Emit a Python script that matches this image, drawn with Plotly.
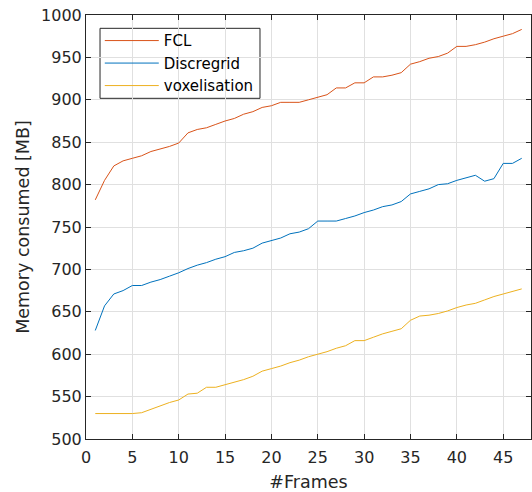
import plotly.graph_objects as go

frames = list(range(1, 48))
fcl = [782, 805, 822, 828, 831, 834, 839, 842, 845, 849,
       861, 865, 867, 871, 875, 878, 883, 886, 891, 893,
       897, 897, 897, 900, 903, 906, 914, 914, 920, 920,
       927, 927, 929, 932, 942, 945, 949, 951, 955, 963,
       963, 965, 968, 972, 975, 978, 983]
discregrid = [628, 657, 671, 675, 681, 681, 685, 688, 692, 696,
              701, 705, 708, 712, 715, 720, 722, 725, 731, 734,
              737, 742, 744, 748, 757, 757, 757, 760, 763, 767,
              770, 774, 776, 780, 789, 792, 795, 800, 801, 805,
              808, 811, 804, 807, 825, 825, 831]
voxel = [530, 530, 530, 530, 530, 531, 535, 539, 543, 546,
         553, 554, 561, 561, 564, 567, 570, 574, 580, 583,
         586, 590, 593, 597, 600, 603, 607, 610, 616, 616,
         620, 624, 627, 630, 640, 645, 646, 648, 651, 655,
         658, 660, 664, 668, 671, 674, 677]

series = [("FCL", fcl, "#D95319"), ("Discregrid", discregrid, "#0072BD"),
          ("voxelisation", voxel, "#EDB120")]

fig = go.Figure()
for name, vals, col in series:
    fig.add_trace(go.Scatter(x=frames, y=vals, mode="lines", name=name,
                             line=dict(color=col, width=1)))

font = "DejaVu Sans, Verdana, sans-serif"
axis_common = dict(showgrid=True, gridcolor="#e0e0e0", gridwidth=1,
                   showline=True, linecolor="#262626", linewidth=1, mirror="ticks",
                   ticks="inside", ticklen=5, tickcolor="#262626", zeroline=False,
                   automargin=False,
                   tickfont=dict(size=16, color="#262626", family=font))

# legend frame drawn as a white box between the grid and the traces
fig.add_shape(type="rect", xref="paper", yref="paper",
              x0=0.0315, x1=0.391, y0=0.8035, y1=0.9686,
              fillcolor="white", line=dict(color="#262626", width=1),
              layer="between")

fig.update_layout(
    width=532, height=492,
    margin=dict(l=86, r=1, t=15, b=53),
    paper_bgcolor="white", plot_bgcolor="white",
    font=dict(family=font, color="#262626"),
    xaxis=dict(range=[0, 48], tickvals=[0, 5, 10, 15, 20, 25, 30, 35, 40, 45],
               ticklabelstandoff=4,
               title=dict(text="#Frames", font=dict(size=17.5, color="#262626"), standoff=14),
               **axis_common),
    yaxis=dict(range=[500, 1000], dtick=50,
               title=dict(text="Memory consumed [MB]", font=dict(size=17.5, color="#262626"), standoff=6),
               **axis_common),
    legend=dict(x=0.031, y=0.978, xanchor="left", yanchor="top",
                borderwidth=0, bgcolor="rgba(0,0,0,0)",
                font=dict(size=15, color="black", family=font),
                itemwidth=54, tracegroupgap=0),
    showlegend=True,
)

fig.write_html("out.html", config={"displayModeBar": False},
               post_script="document.body.style.margin='0';document.body.style.overflow='hidden';")
